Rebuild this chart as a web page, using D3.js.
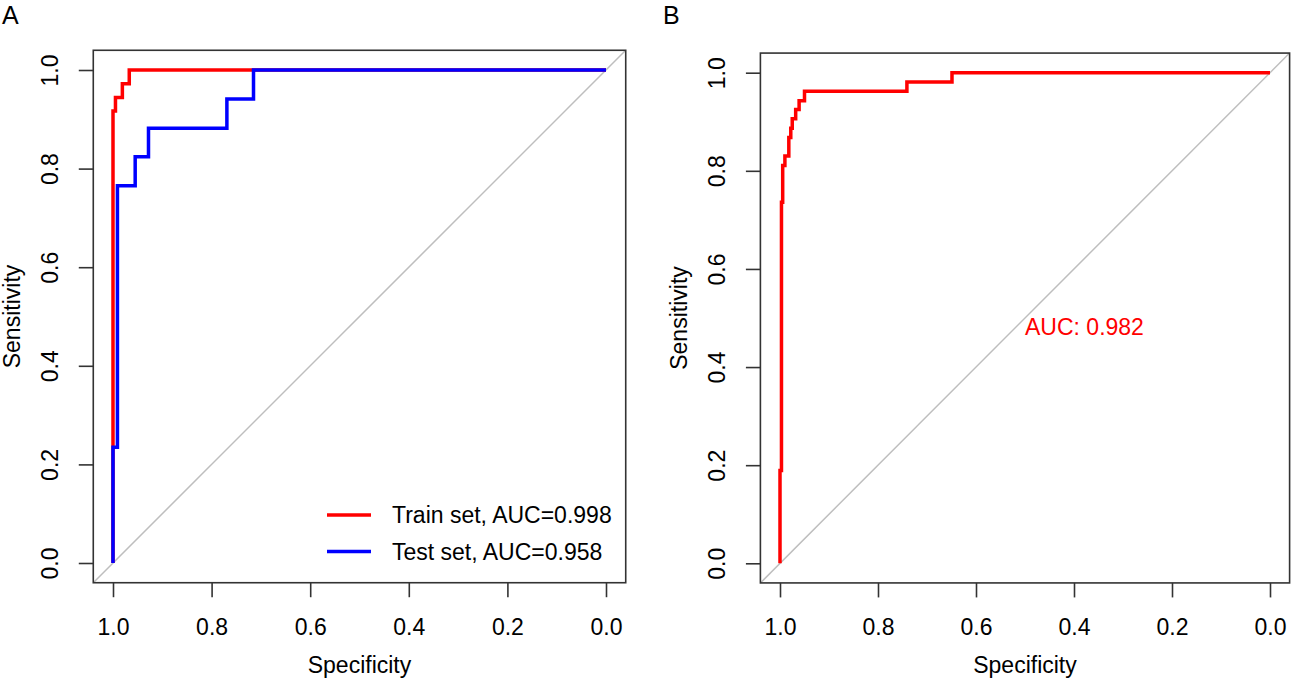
<!DOCTYPE html>
<html>
<head>
<meta charset="utf-8">
<script src="https://cdn.jsdelivr.net/npm/d3@7"></script>
<style>
  body { margin: 0; background: #fff; }
  svg { display: block; font-family: "Liberation Sans", Arial, Helvetica, sans-serif; }
</style>
</head>
<body>
<svg id="chart" width="1291" height="682"></svg>
<script>
// ROC points (specificity, sensitivity)
const trainSpec = [1, 1, 0.995, 0.995, 0.981, 0.981, 0.967, 0.967, 0];
const trainSens = [0, 0.917, 0.917, 0.944, 0.944, 0.972, 0.972, 1, 1];

const testSpec = [1, 1, 0.991, 0.991, 0.955, 0.955, 0.928, 0.928, 0.769, 0.769, 0.715, 0.715, 0];
const testSens = [0, 0.235, 0.235, 0.765, 0.765, 0.824, 0.824, 0.882, 0.882, 0.941, 0.941, 1, 1];

const validSpec = [1, 1, 0.997, 0.997, 0.9945, 0.9945, 0.990, 0.990, 0.982, 0.982, 0.978, 0.978,
  0.975, 0.975, 0.968, 0.968, 0.961, 0.961, 0.950, 0.950, 0.741, 0.741, 0.649, 0.649, 0];
const validSens = [0, 0.189, 0.189, 0.736, 0.736, 0.811, 0.811, 0.830, 0.830, 0.868, 0.868, 0.887,
  0.887, 0.906, 0.906, 0.925, 0.925, 0.943, 0.943, 0.962, 0.962, 0.981, 0.981, 1, 1];

const axisTicks = [1.0, 0.8, 0.6, 0.4, 0.2, 0.0];
const legendLabels = ["Train set, AUC=0.998", "Test set, AUC=0.958"];
const aucLabel = "AUC: 0.982";

const svg = d3.select("#chart");
const fontSize = 23, tickLen = 14.5;

function zip(spec, sens) {
    return spec.map((s, i) => ({ spec: s, sens: sens[i] }));
}

function drawPanel(opt) {
    const x = d3.scaleLinear().domain([1, 0]).range(opt.xr);
    const y = d3.scaleLinear().domain([0, 1]).range(opt.yr);
    const g = svg.append("g");

    const x0 = x(1.04), x1 = x(-0.04), y0 = y(-0.04), y1 = y(1.04);

    // identity line, corner to corner
    g.append("line")
        .attr("x1", x0).attr("y1", y0).attr("x2", x1).attr("y2", y1)
        .attr("stroke", "#bebebe").attr("stroke-width", 1.5);

    // curves
    const line = d3.line().x(d => x(d.spec)).y(d => y(d.sens));
    opt.curves.forEach(c => {
        g.append("path")
            .datum(zip(c.spec, c.sens))
            .attr("d", line)
            .attr("fill", "none")
            .attr("stroke", c.color)
            .attr("stroke-width", 3.5)
            .attr("stroke-linejoin", "miter");
    });

    // box
    g.append("rect")
        .attr("x", x0).attr("y", y1)
        .attr("width", x1 - x0).attr("height", y0 - y1)
        .attr("fill", "none").attr("stroke", "#333").attr("stroke-width", 1.6);

    // x axis
    const xa = g.append("g")
        .attr("transform", `translate(0,${y0})`)
        .call(d3.axisBottom(x).tickValues(axisTicks).tickFormat(d3.format(".1f"))
            .tickSize(tickLen).tickSizeOuter(0).tickPadding(21.5));
    xa.select(".domain").remove();
    xa.selectAll("line").attr("stroke", "#333").attr("stroke-width", 1.6);
    xa.selectAll("text").attr("font-size", fontSize).attr("fill", "#000")
        .attr("font-family", null);

    // y axis
    const ya = g.append("g")
        .attr("transform", `translate(${x0},0)`)
        .call(d3.axisLeft(y).tickValues(axisTicks).tickFormat(d3.format(".1f"))
            .tickSize(tickLen).tickSizeOuter(0));
    ya.select(".domain").remove();
    ya.selectAll("line").attr("stroke", "#333").attr("stroke-width", 1.6);
    ya.selectAll("text")
        .attr("x", null).attr("dy", "0.36em")
        .attr("text-anchor", "middle")
        .attr("transform", "translate(-43.3,0) rotate(-90)")
        .attr("font-size", fontSize).attr("fill", "#000")
        .attr("font-family", null);

    // axis titles
    g.append("text")
        .attr("x", (x0 + x1) / 2).attr("y", 673)
        .attr("text-anchor", "middle").attr("font-size", fontSize)
        .text("Specificity");
    g.append("text")
        .attr("transform", `translate(${x0 - 81.5},${(y0 + y1) / 2}) rotate(-90)`)
        .attr("dy", "0.36em")
        .attr("text-anchor", "middle").attr("font-size", fontSize)
        .text("Sensitivity");

    // panel letter
    svg.append("text")
        .attr("x", opt.letterX).attr("y", 24)
        .attr("font-size", 25)
        .text(opt.letter);

    return { x, y, g };
}

// Panel A
const pa = drawPanel({
    xr: [113, 606], yr: [563, 70], letter: "A", letterX: 2,
    curves: [
        { spec: trainSpec, sens: trainSens, color: "#ff0000" },
        { spec: testSpec, sens: testSens, color: "#0000ff" }
    ]
});

// legend (no box)
const legendColors = ["#ff0000", "#0000ff"];
const legendRows = [515, 551.5];
legendLabels.forEach((lab, i) => {
    pa.g.append("line")
        .attr("x1", 327).attr("x2", 371)
        .attr("y1", legendRows[i]).attr("y2", legendRows[i])
        .attr("stroke", legendColors[i]).attr("stroke-width", 3.5);
    pa.g.append("text")
        .attr("x", 392).attr("y", legendRows[i]).attr("dy", "0.36em")
        .attr("font-size", fontSize)
        .text(lab);
});

// Panel B
const pb = drawPanel({
    xr: [780, 1270], yr: [563.3, 72.7], letter: "B", letterX: 663,
    curves: [
        { spec: validSpec, sens: validSens, color: "#ff0000" }
    ]
});

pb.g.append("text")
    .attr("x", pb.x(0.5)).attr("y", pb.y(0.5))
    .attr("dy", "0.72em")
    .attr("font-size", fontSize)
    .attr("fill", "#ff0000")
    .text(aucLabel);
</script>
</body>
</html>
